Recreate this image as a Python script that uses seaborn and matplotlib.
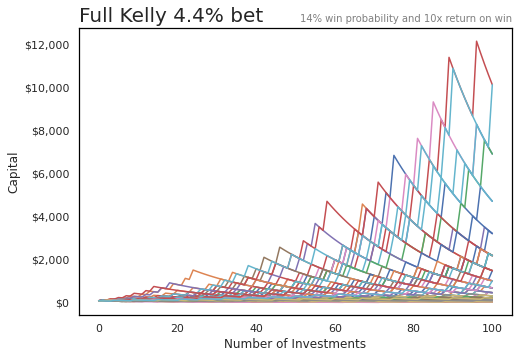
import matplotlib
matplotlib.use("Agg")
import matplotlib.pyplot as plt
import matplotlib.ticker as mticker
import pandas as pd
import seaborn as sns

# betting setup (from the subtitle)
start_capital = 100
win_prob = 0.14
net_odds = 9          # a 10x return means stake back plus 9
n_steps = 100

# steps at which each simulated run won its bet
win_steps = [
    [4, 8, 11, 16, 19, 25, 28, 32, 37, 41, 44, 50, 53, 57, 60, 63, 66, 70, 73, 75, 88, 97],
    [2, 9, 13, 17, 22, 26, 30, 35, 38, 43, 47, 51, 54, 58, 61, 64, 66, 67, 83, 97],
    [5, 12, 18, 27, 31, 40, 46, 52, 59, 65, 71, 77, 84, 88, 94, 99],
    [3, 7, 12, 15, 21, 24, 29, 33, 38, 42, 47, 51, 55, 58, 62, 66, 70, 73, 77, 80, 84, 87, 89, 96],
    [6, 10, 14, 20, 23, 27, 31, 36, 39, 45, 49, 52, 56, 59, 62, 65, 67, 68, 79, 90, 98],
    [3, 6, 10, 13, 17, 21, 25, 28, 31, 35, 38, 42, 45, 46, 60, 72, 81, 88, 95],
    [1, 5, 9, 13, 18, 22, 27, 30, 36, 39, 45, 48, 52, 56, 60, 63, 67, 71, 74, 78, 81, 85, 96],
    [7, 15, 24, 33, 41, 48, 56, 63, 70, 78, 85, 91, 97],
    [4, 11, 19, 26, 34, 42, 49, 55, 61, 68, 74, 82, 89, 95],
    [2, 6, 10, 17, 20, 26, 31, 35, 40, 44, 49, 53, 57, 61, 64, 68, 72, 75, 79, 82, 85, 88, 90],
    [5, 9, 15, 20, 24, 30, 33, 39, 44, 48, 53, 57, 62, 68, 73, 80, 84, 89, 93, 99],
    [2, 5, 8, 11, 14, 17, 20, 24, 28, 31, 34, 48, 63, 75, 87, 96],
    [2, 7, 10, 14, 19, 24, 27, 31, 36, 40, 45, 50, 54, 58, 63, 69, 74, 78, 83, 87, 92, 94, 98],
    [1, 4, 9, 14, 18, 23, 26, 30, 34, 39, 43, 46, 51, 54, 58, 62, 65, 68, 71, 86],
    [4, 7, 11, 14, 18, 22, 25, 29, 33, 36, 40, 44, 47, 51, 53, 55, 70, 88],
    [2, 5, 9, 12, 16, 19, 23, 27, 30, 33, 37, 40, 42, 57, 69, 80, 91],
    [4, 12, 17, 22, 29, 34, 41, 46, 51, 57, 63, 70, 76, 81, 86, 91, 95, 98],
    [6, 13, 21, 28, 37, 45, 52, 60, 67, 73, 79, 84, 90, 96],
    [3, 10, 19, 25, 32, 38, 46, 55, 64, 72, 81, 89, 94],
    [3, 8, 12, 16, 21, 25, 29, 34, 37, 43, 47, 50, 55, 59, 62, 64, 69, 72, 76, 79, 82, 93],
    [7, 11, 18, 23, 28, 35, 42, 47, 53, 59, 65, 70, 76, 80, 85, 90, 94, 97, 100],
    [1, 3, 6, 8, 11, 13, 16, 19, 22, 24, 40, 58, 77, 92],
    [8, 16, 26, 35, 43, 50, 59, 66, 74, 83, 92],
    [2, 5, 8, 12, 15, 19, 23, 27, 30, 34, 38, 41, 45, 49, 52, 56, 58, 74, 85, 94],
    [2, 4, 7, 9, 12, 14, 16, 18, 35, 52, 66, 79, 95],
    [2, 9, 14, 22, 29, 36, 42, 49, 56, 61, 67, 74, 79, 84, 88, 93, 97],
    [5, 13, 20, 27, 34, 43, 51, 58, 64, 71, 77, 83, 87, 91, 96, 99],
    [9, 20, 31, 40, 52, 63, 71, 82, 88, 93],
    [4, 14, 23, 30, 39, 47, 54, 62, 69, 77, 86, 95],
    [3, 6, 9, 13, 16, 19, 23, 26, 29, 32, 35, 38, 44, 49, 55, 62, 67, 72, 78, 83, 87, 91, 96, 100],
    [3, 8, 14, 19, 25, 31, 36, 41, 46, 52, 58, 63, 67, 72, 77, 81, 85, 89, 92, 96, 99],
    [6, 11, 17, 24, 30, 37, 44, 50, 57, 64, 69, 75, 82, 86, 90, 94, 98],
    [2, 10, 18, 27, 38, 47, 57, 68, 76, 85, 94],
    [1, 3, 5, 7, 9, 12, 14, 30, 47, 61, 78, 93],
    [4, 9, 13, 19, 24, 29, 35, 39, 45, 50, 55, 60, 65, 71, 76, 80, 85, 89, 93, 97],
    [7, 16, 25, 33, 44, 54, 65, 75, 86, 96],
    [3, 11, 18, 26, 33, 40, 48, 56, 62, 70, 78, 85, 90, 95],
    [12, 25, 36, 48, 55, 59, 70, 81, 90, 97],
    [5, 15, 22, 31, 41, 51, 60, 70, 79, 87, 92, 98],
    [6, 12, 19, 25, 32, 39, 46, 52, 59, 66, 72, 78, 84, 88, 92, 96],
    [1, 8, 16, 24, 31, 40, 49, 58, 66, 75, 83, 91, 99],
    [10, 21, 30, 42, 53, 62, 73, 80, 84, 94],
    [4, 13, 20, 29, 37, 44, 53, 61, 68, 75, 82, 87, 91, 95, 100],
    [3, 12, 21, 31, 42, 51, 60, 69, 79, 89, 97],
    [6, 14, 23, 32, 41, 49, 58, 67, 74, 80, 86, 91, 96],
    [2, 8, 17, 26, 34, 43, 52, 60, 68, 76, 83, 89, 93, 97],
    [16, 28, 39, 51, 63, 72, 76, 84, 88, 95],
    [5, 13, 22, 30, 38, 46, 55, 63, 72, 81, 87, 92, 98],
    [7, 15, 24, 34, 45, 56, 66, 77, 88, 96],
    [4, 10, 17, 23, 30, 36, 43, 49, 56, 62, 68, 73, 79, 83, 88, 93, 97],
    [3, 9, 14, 18, 23, 29, 33, 38, 42, 46, 51, 56, 61, 65, 69, 74, 78, 82, 87, 91, 95],
    [2, 6, 12, 17, 21, 27, 32, 36, 41, 45, 50, 54, 59, 64, 70, 75, 81, 86, 92, 97],
    [4, 8, 13, 19, 24, 28, 34, 39, 44, 48, 53, 58, 62, 67, 73, 78, 83, 89, 94, 99],
    [1, 6, 10, 15, 19, 25, 30, 35, 40, 44, 49, 55, 60, 66, 71, 77, 82, 88, 93],
    [5, 10, 16, 21, 26, 31, 37, 42, 47, 52, 57, 63, 68, 74, 79, 84, 90, 96],
    [3, 7, 12, 18, 22, 28, 33, 37, 43, 48, 54, 59, 64, 69, 75, 81, 87, 92, 98],
    [2, 8, 13, 18, 24, 29, 34, 40, 45, 50, 56, 61, 66, 72, 77, 83, 89, 95],
    [4, 11, 17, 23, 29, 36, 42, 49, 55, 62, 68, 75, 81, 88, 94],
    [6, 12, 18, 25, 31, 38, 44, 50, 57, 63, 70, 76, 83, 90, 97],
    [1, 5, 11, 16, 20, 26, 31, 36, 41, 47, 52, 57, 62, 67, 72, 78, 84, 90, 95, 99],
    [3, 10, 15, 21, 27, 32, 38, 43, 49, 54, 60, 65, 71, 77, 83, 89, 96],
    [4, 9, 15, 20, 25, 31, 36, 42, 47, 53, 58, 64, 69, 75, 80, 86, 91, 97],
    [7, 13, 20, 26, 33, 39, 46, 52, 59, 65, 72, 79, 86, 93],
    [2, 7, 11, 16, 22, 27, 32, 37, 43, 48, 53, 59, 64, 70, 76, 82, 87, 93, 98],
    [5, 11, 17, 22, 28, 34, 40, 46, 51, 57, 63, 69, 75, 81, 88, 94],
    [8, 14, 21, 28, 35, 41, 48, 54, 61, 67, 74, 80, 87, 95],
    [3, 9, 14, 20, 26, 32, 37, 43, 49, 55, 60, 66, 73, 79, 85, 91, 97],
    [6, 14, 22, 30, 38, 46, 54, 62, 71, 79, 88, 96],
    [2, 9, 16, 23, 30, 37, 45, 52, 60, 67, 75, 82, 90, 98],
    [4, 9, 15, 21, 26, 32, 38, 44, 50, 55, 61, 67, 73, 78, 84, 89, 94, 100],
]

kelly = win_prob - (1 - win_prob) / net_odds

rows = []
for i, wins in enumerate(win_steps):
    cap = start_capital
    rows.append((i, 0, cap))
    for t in range(1, n_steps + 1):
        if t in wins:
            cap *= 1 + kelly * net_odds
        else:
            cap *= 1 - kelly
        rows.append((i, t, cap))
df = pd.DataFrame(rows, columns=["path", "step", "capital"])

sns.set_theme(style="white")
fig, ax = plt.subplots(figsize=(518 / 72, 359 / 72), dpi=72)
fig.subplots_adjust(left=0.1525, right=0.9884, top=0.922, bottom=0.1226)

sns.lineplot(
    data=df, x="step", y="capital", hue="path",
    palette=sns.color_palette("deep", len(win_steps)),
    legend=False, errorbar=None, linewidth=1.5, ax=ax,
)

ax.set_xlim(-5, 105)
ax.set_ylim(-560, 12790)
ax.yaxis.set_major_formatter(mticker.StrMethodFormatter("${x:,.0f}"))
ax.set_xlabel("Number of Investments")
ax.set_ylabel("Capital")
ax.set_title("Full Kelly 4.4% bet", loc="left", fontsize=20)
ax.set_title("14% win probability and 10x return on win", loc="right",
             fontsize=10, color="gray")
for s in ax.spines.values():
    s.set_color("black")

fig.savefig("out.png", dpi=72)
